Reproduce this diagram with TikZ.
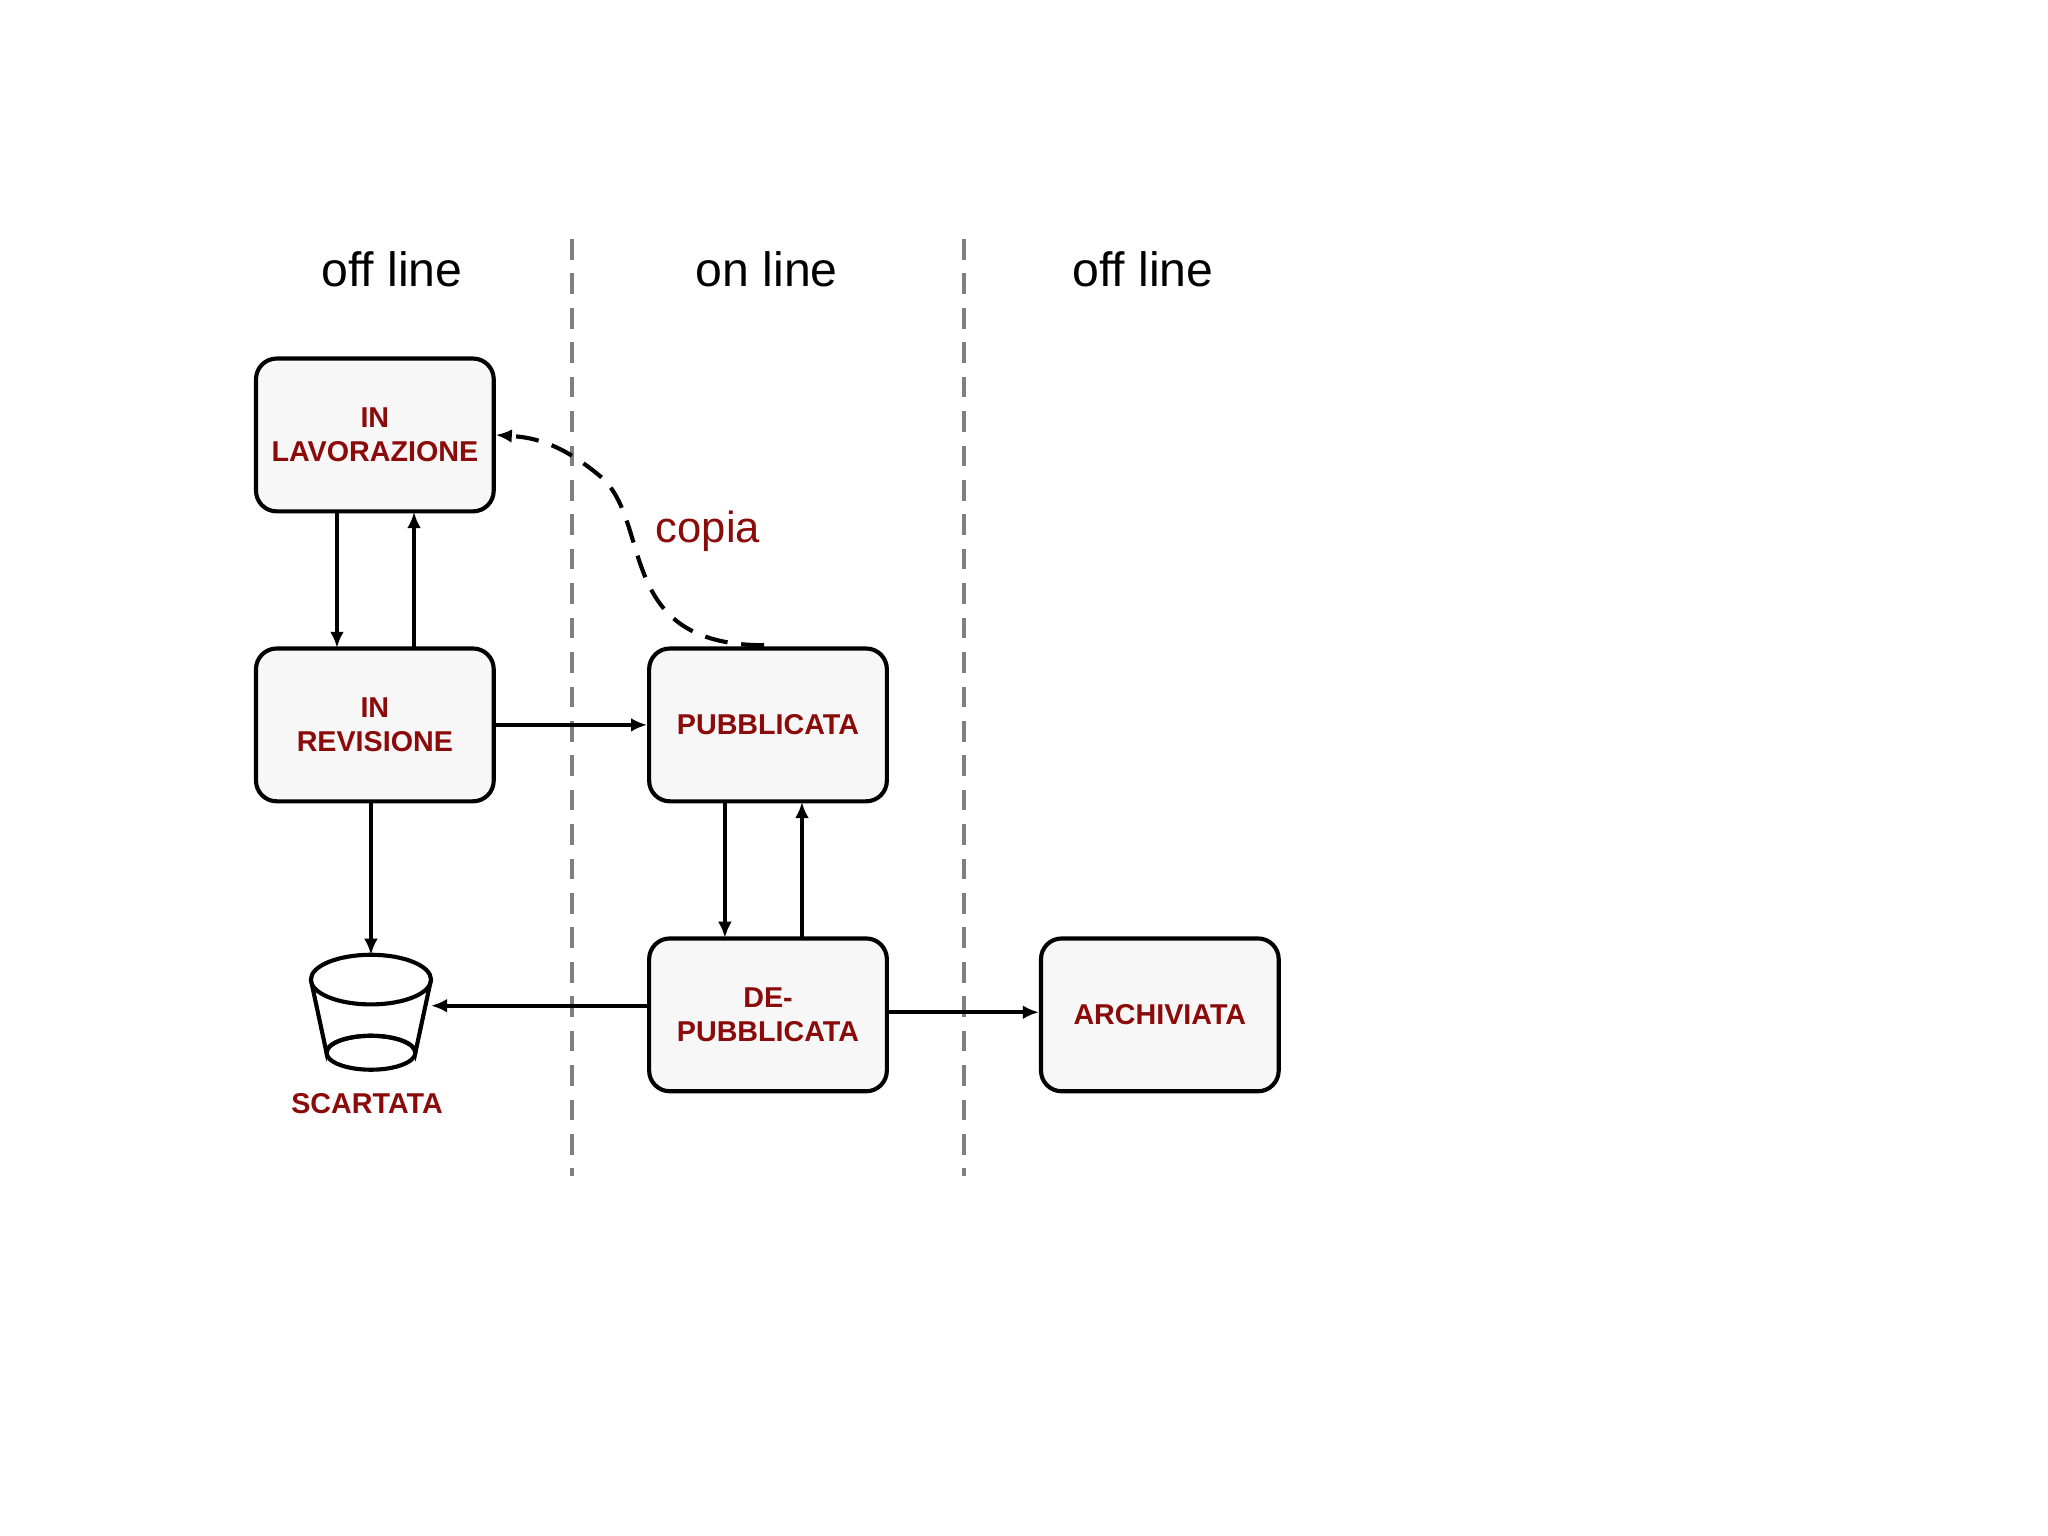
\documentclass[tikz,border=0pt]{standalone}
\usepackage{fontspec}
\setmainfont{Liberation Sans}
\usetikzlibrary{arrows.meta,shapes.geometric}
\definecolor{dred}{RGB}{139,10,10}
\begin{document}
\begin{tikzpicture}[x=0.02cm,y=-0.02cm,
  box/.style={draw=black,line width=1.8pt,rounded corners=9pt,fill=gray!6,minimum width=182*0.02cm,minimum height=117*0.02cm,align=center,text=dred,font=\fontsize{12.5}{15}\selectfont\bfseries},
  head/.style={font=\fontsize{21}{24}\selectfont},
  arr/.style={-{Latex[length=7pt,width=6pt]},line width=1.8pt},
  sep/.style={draw=gray,line width=1.9pt,dash pattern=on 9pt off 6pt}]
\useasboundingbox (0,0) rectangle (1568,1176);
\fill[white] (0,0) rectangle (1568,1176);
\draw[sep] (438,183) -- (438,900);
\draw[sep] (738,183) -- (738,900);
\node[head] (h1) at (300,206) {off line};
\node[head] (h2) at (587,206) {on line};
\node[head] (h3) at (875,206) {off line};
\node[box] (lav) at (287,333) {IN\\LAVORAZIONE};
\node[box] (rev) at (287,555) {IN\\REVISIONE};
\node[box] (pub) at (588,555) {PUBBLICATA};
\node[box] (dep) at (588,777) {DE-\\PUBBLICATA};
\node[box] (arc) at (888,777) {ARCHIVIATA};
% bucket
\coordinate (btop) at (284,731);
\draw[line width=1.8pt,fill=white] (238,750) -- (250,806) arc[start angle=180,end angle=360,x radius=34,y radius=13] -- (330,750);
\draw[line width=1.8pt] (284,806) ellipse [x radius=34,y radius=13];
\draw[line width=1.8pt,fill=white] (284,750) ellipse [x radius=46,y radius=19];
\coordinate (bright) at (330,770);
\node[text=dred,font=\fontsize{12.5}{15}\selectfont\bfseries] (scar) at (281,845) {SCARTATA};
\node[text=dred,font=\fontsize{19}{22}\selectfont] (cop) at (542,407) {copia};
\draw[arr] (258,392) -- (258,496);
\draw[arr] (317,496) -- (317,392);
\draw[arr] (rev.east) -- (pub.west);
\draw[arr] (btop |- rev.south) -- (btop);
\draw[arr] (555,614) -- (555,718);
\draw[arr] (614,718) -- (614,614);
\draw[arr] (dep.west |- bright) -- (bright);
\draw[arr] (679,775) -- (arc.west |- 0,775);
\draw[arr,dash pattern=on 10pt off 6pt] (585,494) .. controls (470,494) and (500,400) .. (460,365) .. controls (430,340) and (410,335) .. (lav.east);
\end{tikzpicture}
\end{document}
